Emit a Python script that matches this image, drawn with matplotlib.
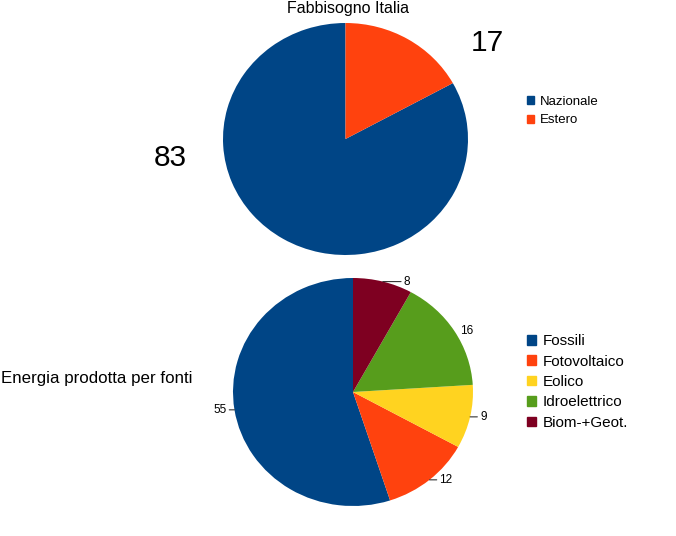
import numpy as np
import matplotlib
matplotlib.use("Agg")
import matplotlib.pyplot as plt
from matplotlib.patches import Patch

plt.rcParams['font.family'] = ['Liberation Sans', 'DejaVu Sans']

# dati
fabb_labels = ["Nazionale", "Estero"]
fabb_values = [83, 17]

fonti_labels = ["Fossili", "Fotovoltaico", "Eolico", "Idroelettrico", "Biom-+Geot."]
fonti_values = [55, 12, 9, 16, 8]

# palette tipo LibreOffice
colori = ["#004586", "#ff420e", "#ffd320", "#579d1c", "#7e0021"]

W, H = 676, 536
fig = plt.figure(figsize=(W / 100, H / 100), dpi=100)

def px_axes(x0, y0, x1, y1):
    # riquadro in pixel (origine in alto a sinistra)
    return fig.add_axes([x0 / W, 1 - y1 / H, (x1 - x0) / W, (y1 - y0) / H])

# --- torta in alto
ax1 = px_axes(223, 23, 468, 255)
w1, _ = ax1.pie(fabb_values, colors=colori[:2], startangle=90, counterclock=True,
                radius=1, wedgeprops=dict(linewidth=0))
ax1.set_aspect('auto')
ax1.set_xlim(-1, 1)
ax1.set_ylim(-1, 1)
ax1.axis('off')
ax1.text(-1.43, -0.16, str(fabb_values[0]), fontsize=21.5, ha='center', va='center',
         clip_on=False)
ax1.text(1.16, 0.83, str(fabb_values[1]), fontsize=21.5, ha='center', va='center',
         clip_on=False)

fig.text(348 / W, 1 - 8 / H, "Fabbisogno Italia", fontsize=11.5, ha='center', va='center')

leg1 = fig.legend([Patch(color=c) for c in colori[:2]], fabb_labels,
                  loc='center left', bbox_to_anchor=(527 / W, 1 - 111 / H),
                  frameon=False, fontsize=9.5, handlelength=0.55, handleheight=0.55,
                  handletextpad=0.4, labelspacing=0.5, borderpad=0, borderaxespad=0)

# --- torta in basso
ax2 = px_axes(233, 278, 473, 506)
w2, _ = ax2.pie(fonti_values, colors=colori, startangle=90, counterclock=True,
                radius=1, wedgeprops=dict(linewidth=0))
ax2.set_aspect('auto')
ax2.set_xlim(-1, 1)
ax2.set_ylim(-1, 1)
ax2.axis('off')

# scostamento orizzontale dell'etichetta (pixel) e se disegnare la linea
offs = [-8, 10, 10, 6, 21]
linee = [True, True, True, False, True]
for w, v, dx, ln in zip(w2, fonti_values, offs, linee):
    ang = np.deg2rad((w.theta1 + w.theta2) / 2)
    x, y = np.cos(ang), np.sin(ang)
    ax2.annotate(str(v), xy=(x, y), xytext=(dx * 0.72, 0), textcoords='offset points',
                 fontsize=8.5, ha='right' if dx < 0 else 'left', va='center',
                 arrowprops=dict(arrowstyle='-', color='#333333', lw=0.8,
                                 shrinkA=0, shrinkB=0) if ln else None,
                 annotation_clip=False)

fig.text(1 / W, 1 - 378 / H, "Energia prodotta per fonti", fontsize=12.2,
         ha='left', va='center')

leg2 = fig.legend([Patch(color=c) for c in colori], fonti_labels,
                  loc='center left', bbox_to_anchor=(527 / W, 1 - 382 / H),
                  frameon=False, fontsize=11, handlelength=0.6, handleheight=0.6,
                  handletextpad=0.4, labelspacing=0.42, borderpad=0, borderaxespad=0)

fig.savefig("out.png", dpi=100)
